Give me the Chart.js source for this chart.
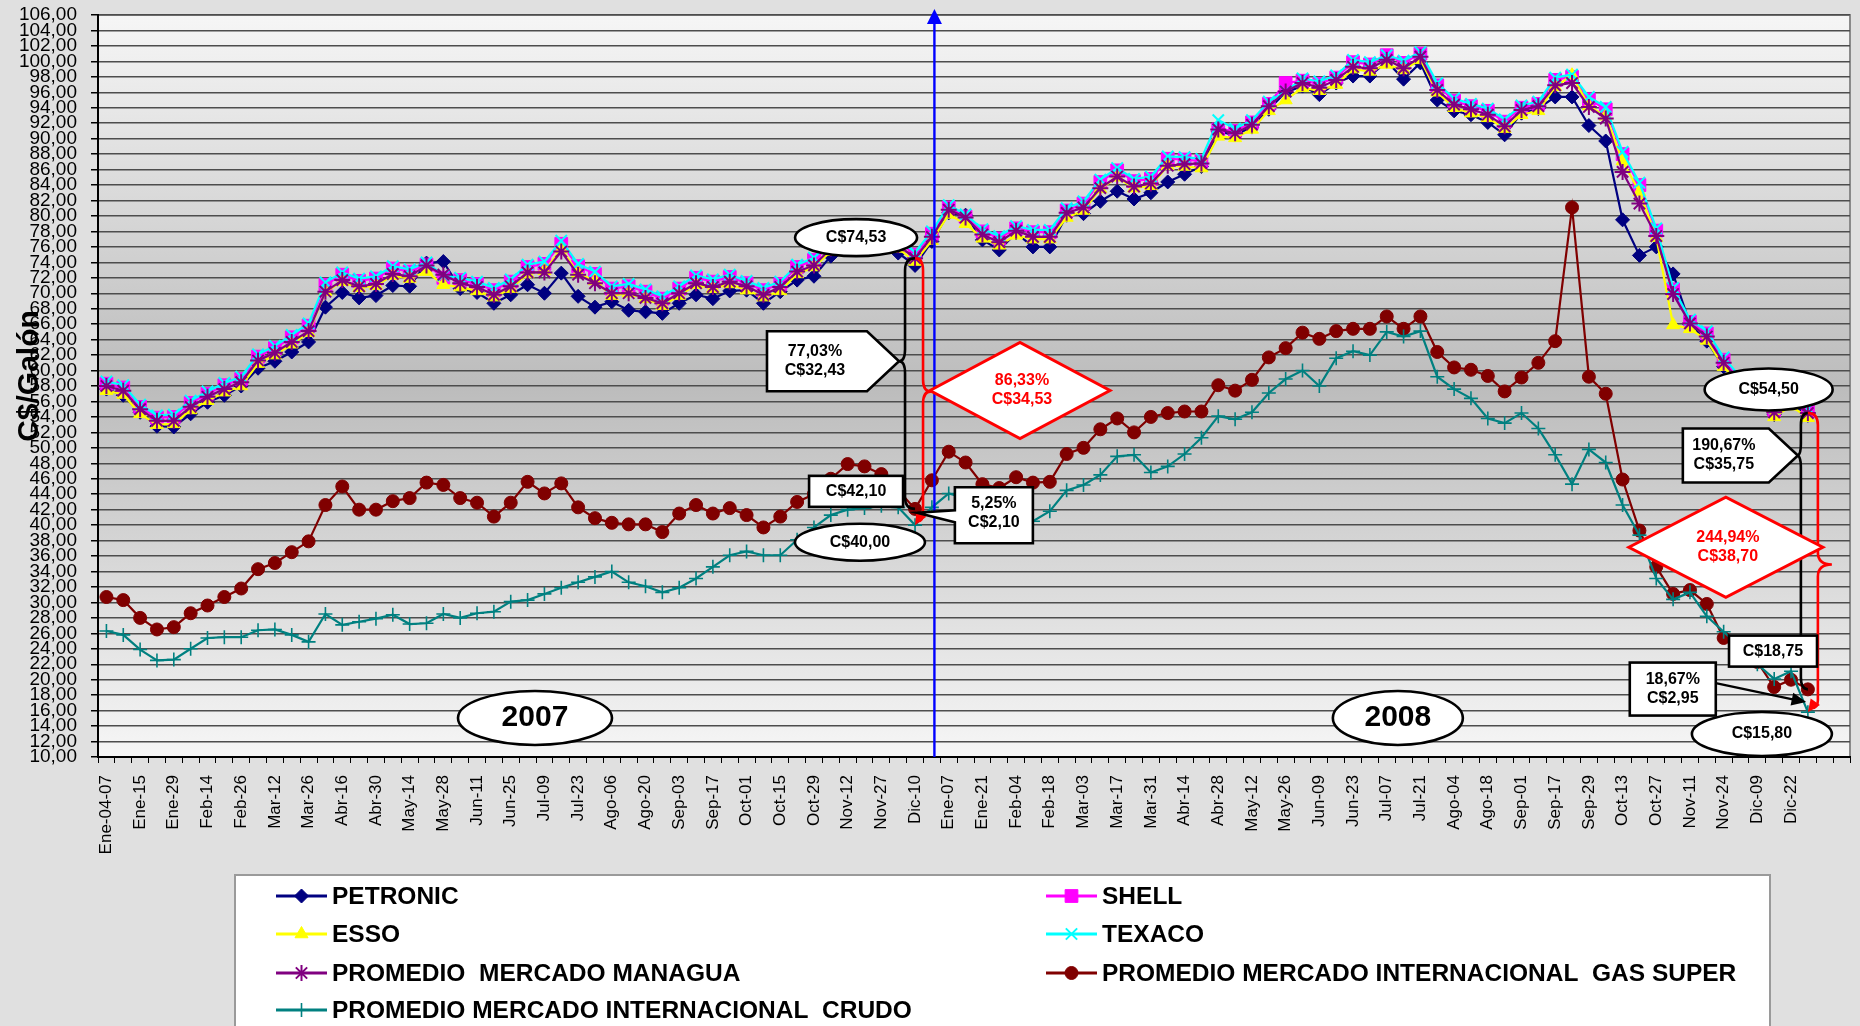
<!DOCTYPE html>
<html><head><meta charset="utf-8">
<script src="https://cdn.jsdelivr.net/npm/chart.js@4/dist/chart.umd.min.js"></script>
<style>html,body{margin:0;padding:0;background:#e0e0e0;}#wrap{width:1860px;height:1026px;position:relative;}</style>
</head><body><div id="wrap"><canvas id="c" width="1860" height="1026"></canvas></div>
<script>
const tickLabels = ["Ene-04-07","Ene-15","Ene-29","Feb-14","Feb-26","Mar-12","Mar-26","Abr-16","Abr-30","May-14","May-28","Jun-11","Jun-25","Jul-09","Jul-23","Ago-06","Ago-20","Sep-03","Sep-17","Oct-01","Oct-15","Oct-29","Nov-12","Nov-27","Dic-10",
"Ene-07","Ene-21","Feb-04","Feb-18","Mar-03","Mar-17","Mar-31","Abr-14","Abr-28","May-12","May-26","Jun-09","Jun-23","Jul-07","Jul-21","Ago-04","Ago-18","Sep-01","Sep-17","Sep-29","Oct-13","Oct-27","Nov-11","Nov-24","Dic-09","Dic-22"];
const weekCount = 104;

const petronic = [57.6,56.8,54.6,52.8,52.7,54.4,55.9,56.8,58.0,60.3,
 61.2,62.4,63.7,68.2,70.1,69.4,69.7,71.0,70.9,73.9,
 74.1,70.6,70.1,68.7,69.8,71.1,70.0,72.6,69.6,68.2,
 68.9,67.8,67.6,67.4,68.7,69.8,69.3,70.3,70.4,68.7,
 70.2,71.7,72.2,74.8,75.8,76.2,76.0,75.2,73.6,76.7,
 80.4,80.1,76.9,75.6,77.8,76.0,76.0,80.1,80.3,81.9,
 83.2,82.2,83.0,84.4,85.4,86.4,90.9,90.5,91.5,93.8,
 96.0,96.8,95.7,97.2,98.1,98.1,100.0,97.7,99.8,95.0,
 93.6,93.1,92.1,90.5,93.3,93.9,95.4,95.4,91.7,89.7,
 79.5,74.9,76.0,72.5,66.0,63.8,60.5,58.2,56.2,54.3,
 55.8,54.2];
const shell = [58.3,57.8,55.3,53.9,54.0,55.8,57.0,58.1,58.9,61.8,
 62.9,64.3,65.8,71.1,72.4,71.6,71.9,73.2,72.8,73.7,
 72.0,71.7,71.2,70.4,71.5,73.4,73.8,76.4,73.5,72.5,
 70.6,70.9,70.2,69.3,70.6,72.0,71.5,72.1,71.3,70.4,
 71.2,73.4,74.3,76.3,77.3,77.7,77.5,76.7,75.0,77.7,
 81.1,79.9,78.0,77.1,78.4,77.9,77.9,80.7,81.6,84.4,
 85.9,84.5,84.8,87.4,87.3,87.1,91.2,91.0,92.1,94.5,
 97.2,97.5,97.1,97.9,99.9,99.6,100.8,99.8,101.0,96.9,
 94.9,94.2,93.6,92.2,94.0,94.5,97.6,98.0,95.1,93.8,
 88.0,84.0,78.1,70.5,66.3,64.8,61.4,58.8,56.8,54.9,
 56.3,54.8];
const esso = [57.4,56.9,54.4,53.0,53.1,54.9,56.1,57.2,58.0,60.9,
 62.0,63.4,64.9,70.2,71.5,70.7,71.0,72.3,71.9,72.8,
 71.1,70.8,70.3,69.5,70.6,72.5,72.9,75.7,72.6,71.6,
 69.7,70.0,69.3,68.4,69.7,71.1,70.6,71.2,70.4,69.5,
 70.3,72.5,73.4,75.4,76.4,76.8,76.6,75.8,74.1,76.8,
 80.2,79.0,77.1,76.2,77.5,77.0,77.0,79.8,80.7,83.5,
 85.0,83.6,83.9,86.5,86.4,86.2,90.3,90.1,91.2,93.6,
 95.0,96.6,96.2,97.0,99.0,98.7,99.6,98.9,100.2,96.0,
 94.0,93.3,92.7,91.3,93.1,93.6,96.7,98.2,94.2,92.9,
 87.1,83.1,77.2,65.9,65.4,63.9,60.5,57.9,55.9,54.0,
 55.4,53.9];
const texaco = [58.6,58.1,55.6,54.2,54.3,56.1,57.3,58.4,59.2,62.1,
 63.2,64.6,66.1,71.4,72.7,71.9,72.2,73.5,73.1,74.0,
 72.3,72.0,71.5,70.7,71.8,73.7,74.1,76.8,73.8,72.8,
 70.9,71.2,70.5,69.6,70.9,72.3,71.8,72.4,71.6,70.7,
 71.5,73.7,74.6,76.6,77.6,78.0,77.8,77.0,75.3,78.0,
 81.4,80.2,78.3,77.4,78.7,78.2,78.2,81.0,81.9,84.7,
 86.2,84.8,85.1,87.7,87.6,87.4,92.4,91.3,92.4,94.8,
 96.1,97.8,97.4,98.2,100.2,99.9,100.8,100.1,101.2,97.2,
 95.2,94.5,93.9,92.5,94.3,94.8,97.9,98.3,95.4,94.1,
 88.3,84.3,78.4,70.7,66.6,65.1,61.7,59.1,57.1,55.2,
 56.6,55.1];
const promedioManagua = [58.0,57.4,55.0,53.5,53.5,55.3,56.6,57.6,58.5,61.3,
 62.3,63.7,65.1,70.2,71.7,70.9,71.2,72.5,72.2,73.6,
 72.4,71.3,70.8,69.8,70.9,72.7,72.7,75.4,72.4,71.3,
 70.0,70.0,69.4,68.7,70.0,71.3,70.8,71.5,70.9,69.8,
 70.8,72.8,73.6,75.8,76.8,77.2,77.0,76.2,74.53,77.3,
 80.8,79.8,77.6,76.6,78.1,77.3,77.3,80.4,81.1,83.6,
 85.1,83.8,84.2,86.5,86.7,86.8,91.2,90.7,91.8,94.2,
 96.1,97.2,96.6,97.6,99.3,99.1,100.2,99.1,100.6,96.3,
 94.4,93.8,93.1,91.6,93.7,94.2,96.9,97.2,94.1,92.6,
 85.7,81.6,77.4,69.9,66.1,64.4,61.0,58.5,56.5,54.6,
 56.0,54.5];
const gasSuper = [30.7,30.3,28.0,26.5,26.8,28.6,29.6,30.7,31.8,34.3,
 35.1,36.5,37.9,42.6,45.0,42.0,42.0,43.1,43.5,45.5,
 45.2,43.5,42.9,41.1,42.9,45.6,44.1,45.4,42.3,40.9,
 40.3,40.1,40.1,39.1,41.5,42.6,41.5,42.2,41.3,39.7,
 41.1,43.0,44.0,46.0,47.9,47.6,46.6,44.5,42.1,45.8,
 49.5,48.1,45.3,44.8,46.2,45.5,45.6,49.2,50.0,52.4,
 53.8,52.0,54.0,54.5,54.7,54.7,58.1,57.4,58.8,61.7,
 62.9,64.9,64.1,65.1,65.4,65.4,67.0,65.4,67.0,62.4,
 60.4,60.1,59.3,57.3,59.1,61.0,63.8,81.1,59.2,57.0,
 45.9,39.3,34.6,31.1,31.6,29.8,25.4,23.8,22.3,19.05,
 20.0,18.75];
const crudo = [26.3,25.8,23.9,22.5,22.6,24.0,25.4,25.5,25.5,26.4,
 26.5,25.8,24.9,28.5,27.1,27.5,27.9,28.4,27.2,27.3,
 28.5,28.0,28.6,28.8,30.1,30.3,31.1,31.9,32.6,33.3,
 34.0,32.6,32.1,31.3,31.9,33.1,34.6,36.1,36.6,36.1,
 36.1,38.1,39.7,41.3,42.0,42.2,42.5,42.3,40.0,42.3,
 44.1,43.5,42.0,41.0,40.5,40.5,41.8,44.5,45.2,46.5,
 48.9,49.1,46.8,47.6,49.2,51.3,54.1,53.7,54.6,57.1,
 58.9,60.0,58.0,61.6,62.5,62.0,65.0,64.4,65.1,59.2,
 57.6,56.4,53.8,53.2,54.5,52.5,49.1,45.3,49.8,48.1,
 42.6,38.7,33.1,30.4,31.3,28.2,26.2,24.2,22.0,20.1,
 21.1,15.8];
const seriesNames = ["PETRONIC","SHELL","ESSO","TEXACO","PROMEDIO  MERCADO MANAGUA","PROMEDIO MERCADO INTERNACIONAL  GAS SUPER","PROMEDIO MERCADO INTERNACIONAL  CRUDO"];

const categories = [];
for (let i = 0; i < weekCount; i++) categories.push(i % 2 === 0 && tickLabels[i / 2] ? tickLabels[i / 2] : "");

const FONT = '"Liberation Sans", Arial, sans-serif';
Chart.defaults.font.family = FONT;

function mk(label, data, color, style, radius, pbw, order) {
  return { label, data, borderColor: color, backgroundColor: color, pointBackgroundColor: color,
    pointBorderColor: color, pointStyle: style, pointRadius: radius, pointBorderWidth: pbw,
    borderWidth: 2.2, tension: 0, order, clip: false };
}
const datasets = [
  mk(seriesNames[0], petronic, '#000080', 'rectRot', 7, 1, 7),
  mk(seriesNames[1], shell, '#ff00ff', 'rect', 9, 1, 6),
  mk(seriesNames[2], esso, '#ffff00', 'triangle', 7.5, 1, 5),
  mk(seriesNames[3], texaco, '#00ffff', 'crossRot', 8, 2, 4),
  mk(seriesNames[4], promedioManagua, '#800080', 'star', 8, 2, 3),
  mk(seriesNames[5], gasSuper, '#800000', 'circle', 6.5, 1, 2),
  mk(seriesNames[6], crudo, '#008080', 'cross', 7, 1.6, 1)
];

const bgPlugin = {
  id: 'bg',
  beforeDraw(chart) {
    const { ctx, chartArea: a } = chart;
    ctx.save();
    ctx.fillStyle = '#e0e0e0';
    ctx.fillRect(0, 0, chart.width, chart.height);
    const g = ctx.createLinearGradient(0, a.top, 0, a.bottom);
    g.addColorStop(0, '#f6f6f6'); g.addColorStop(0.5, '#bcbcbc'); g.addColorStop(1, '#f6f6f6');
    ctx.fillStyle = g;
    ctx.fillRect(a.left, a.top, a.right - a.left, a.bottom - a.top);
    ctx.strokeStyle = '#8a8a8a'; ctx.lineWidth = 2;
    ctx.beginPath(); ctx.moveTo(a.left, a.top); ctx.lineTo(a.right, a.top); ctx.lineTo(a.right, a.bottom); ctx.stroke();
    ctx.restore();
  }
};

function textLines(ctx, cx, cy, lines, font, color, lh) {
  ctx.font = font; ctx.fillStyle = color; ctx.textAlign = 'center'; ctx.textBaseline = 'middle';
  const n = lines.length;
  lines.forEach((t, k) => ctx.fillText(t, cx, cy + (k - (n - 1) / 2) * lh));
}
function ellipse(ctx, cx, cy, rx, ry, lines, font) {
  ctx.beginPath(); ctx.ellipse(cx, cy, rx, ry, 0, 0, Math.PI * 2);
  ctx.fillStyle = '#fff'; ctx.fill(); ctx.lineWidth = 2.6; ctx.strokeStyle = '#000'; ctx.stroke();
  textLines(ctx, cx, cy, lines, font, '#000', 19);
}
function rectBox(ctx, cx, cy, w, h, lines, font) {
  ctx.fillStyle = '#fff'; ctx.fillRect(cx - w / 2, cy - h / 2, w, h);
  ctx.lineWidth = 2.6; ctx.strokeStyle = '#000'; ctx.strokeRect(cx - w / 2, cy - h / 2, w, h);
  textLines(ctx, cx, cy, lines, font, '#000', 19);
}
function pentagon(ctx, cx, cy, w, h, tipX, lines, font) {
  const L = cx - w / 2, R = cx + w / 2, T = cy - h / 2, B = cy + h / 2;
  ctx.beginPath(); ctx.moveTo(L, T); ctx.lineTo(R, T); ctx.lineTo(tipX, cy); ctx.lineTo(R, B); ctx.lineTo(L, B); ctx.closePath();
  ctx.fillStyle = '#fff'; ctx.fill(); ctx.lineWidth = 2.6; ctx.strokeStyle = '#000'; ctx.stroke();
  textLines(ctx, cx - 2, cy, lines, font, '#000', 19);
}
function diamond(ctx, cx, cy, hw, hh, lines, font) {
  ctx.beginPath(); ctx.moveTo(cx - hw, cy); ctx.lineTo(cx, cy - hh); ctx.lineTo(cx + hw, cy); ctx.lineTo(cx, cy + hh); ctx.closePath();
  ctx.fillStyle = '#fff'; ctx.fill(); ctx.lineWidth = 3; ctx.strokeStyle = '#ff0000'; ctx.stroke();
  textLines(ctx, cx + 2, cy, lines, font, '#ff0000', 19);
}
function arrowHead(ctx, tx, ty, fx, fy, size, color) {
  const ang = Math.atan2(ty - fy, tx - fx);
  ctx.beginPath(); ctx.moveTo(tx, ty);
  ctx.lineTo(tx - size * Math.cos(ang - 0.42), ty - size * Math.sin(ang - 0.42));
  ctx.lineTo(tx - size * Math.cos(ang + 0.42), ty - size * Math.sin(ang + 0.42));
  ctx.closePath(); ctx.fillStyle = color; ctx.fill();
}
function brace(ctx, px, yTop, yBot, off, cuspY, cuspOff, color, arrowBottom) {
  const lx = px + off, r = 12;
  ctx.beginPath();
  ctx.moveTo(px, yTop);
  ctx.quadraticCurveTo(lx, yTop, lx, yTop + r);
  ctx.lineTo(lx, cuspY - r);
  ctx.quadraticCurveTo(lx, cuspY, lx + cuspOff, cuspY);
  ctx.quadraticCurveTo(lx, cuspY, lx, cuspY + r);
  ctx.lineTo(lx, yBot - r);
  if (arrowBottom) ctx.quadraticCurveTo(lx, yBot - 4, px + off * 0.35, yBot - 4);
  else ctx.quadraticCurveTo(lx, yBot, px, yBot);
  ctx.strokeStyle = color; ctx.lineWidth = 2.6; ctx.stroke();
  if (arrowBottom) arrowHead(ctx, px, yBot, lx, yBot - 14, 14, color);
}

const annPlugin = {
  id: 'ann',
  afterDraw(chart) {
    const { ctx, scales: { x, y }, chartArea: a } = chart;
    const X = i => x.getPixelForValue(i);
    const Y = v => y.getPixelForValue(v);
    const bold = 'bold 16px ' + FONT;
    ctx.save();
    // blue vertical line with arrow
    const bx = X(49.15);
    ctx.strokeStyle = '#0000ff'; ctx.lineWidth = 2.4;
    ctx.beginPath(); ctx.moveTo(bx, a.bottom); ctx.lineTo(bx, a.top + 6); ctx.stroke();
    ctx.beginPath(); ctx.moveTo(bx, a.top - 6); ctx.lineTo(bx - 7.5, a.top + 9); ctx.lineTo(bx + 7.5, a.top + 9); ctx.closePath();
    ctx.fillStyle = '#0000ff'; ctx.fill();

    // ---- 2007 end annotations (week index 48)
    const p48 = X(48);
    brace(ctx, p48, Y(promedioManagua[48]), Y(gasSuper[48]), -10, Y(61.2), -6, '#000', false);
    brace(ctx, p48, Y(promedioManagua[48]), Y(crudo[48]), 8, Y(57.3), 8, '#ff0000', true);
    ellipse(ctx, X(44.5), Y(77.2), 61, 18.5, ['C$74,53'], bold);
    pentagon(ctx, X(42.18), Y(61.2), 100, 60, p48 - 16, ['77,03%', 'C$32,43'], bold);
    diamond(ctx, X(54.23), Y(57.42), 90, 48, ['86,33%', 'C$34,53'], bold);
    rectBox(ctx, X(44.5), Y(44.37), 94, 31, ['C$42,10'], bold);
    ellipse(ctx, X(44.73), Y(37.78), 65, 18.5, ['C$40,00'], bold);
    // callout 5,25%
    {
      const cx = X(52.68), cy = Y(41.27), w = 78, h = 56;
      const L = cx - w / 2, R = cx + w / 2, T = cy - h / 2, B = cy + h / 2;
      const tx = p48 + 2, ty = Y(41.6);
      ctx.beginPath(); ctx.moveTo(L, T); ctx.lineTo(R, T); ctx.lineTo(R, B); ctx.lineTo(L, B);
      ctx.lineTo(L, T + 35); ctx.lineTo(tx, ty); ctx.lineTo(L, T + 23); ctx.closePath();
      ctx.fillStyle = '#fff'; ctx.fill(); ctx.lineWidth = 2.6; ctx.strokeStyle = '#000'; ctx.stroke();
      textLines(ctx, cx, cy - 2, ['5,25%', 'C$2,10'], bold, '#000', 19);
    }
    // year ellipses
    ellipse(ctx, X(25.44), Y(15.05), 77, 27, ['2007'], 'bold 30px ' + FONT);
    ellipse(ctx, X(76.66), Y(15.05), 65, 27, ['2008'], 'bold 30px ' + FONT);

    // ---- 2008 end annotations (week index 101)
    const p101 = X(101);
    brace(ctx, p101, Y(promedioManagua[101]), Y(gasSuper[101]), -7, Y(49.0), -4, '#000', false);
    brace(ctx, p101, Y(promedioManagua[101]), Y(crudo[101]), 10, Y(34.9), 14, '#ff0000', true);
    ellipse(ctx, X(98.67), Y(57.55), 64, 21, ['C$54,50'], bold);
    pentagon(ctx, X(96.13), Y(49.0), 86, 54, p101 - 10, ['190,67%', 'C$35,75'], bold);
    diamond(ctx, X(96.13), Y(37.14), 97, 50, ['244,94%', 'C$38,70'], bold);
    rectBox(ctx, X(98.93), Y(23.7), 88, 31, ['C$18,75'], bold);
    rectBox(ctx, X(92.98), Y(18.79), 86, 53, ['18,67%', 'C$2,95'], bold);
    {
      const fx = X(92.98) + 43, fy = Y(18.79) - 6, tx = X(100.9), ty = Y(17.1);
      ctx.strokeStyle = '#000'; ctx.lineWidth = 2.2;
      ctx.beginPath(); ctx.moveTo(fx, fy); ctx.lineTo(tx - 10, ty - 2); ctx.stroke();
      arrowHead(ctx, tx, ty, fx, fy, 16, '#000');
    }
    ellipse(ctx, X(98.27), Y(12.98), 70, 22, ['C$15,80'], bold);

    // y-axis title
    ctx.save();
    ctx.translate(30, (a.top + a.bottom) / 2 - 10);
    ctx.rotate(-Math.PI / 2);
    ctx.font = 'bold 30px ' + FONT; ctx.fillStyle = '#000'; ctx.textAlign = 'center'; ctx.textBaseline = 'middle';
    ctx.fillText('C$/Galón', 0, 0);
    ctx.restore();

    // legend
    ctx.fillStyle = '#fff'; ctx.fillRect(235, 875, 1535, 170);
    ctx.strokeStyle = '#9a9a9a'; ctx.lineWidth = 2; ctx.strokeRect(235, 875, 1535, 170);
    const cols = [276, 1046], rows = [896, 934, 973, 1010];
    const place = [[0, 0], [1, 0], [0, 1], [1, 1], [0, 2], [1, 2], [0, 3]];
    chart.data.datasets.forEach((d, k) => {
      const [c, r] = place[k];
      const sx = cols[c], sy = rows[r];
      ctx.strokeStyle = d.borderColor; ctx.lineWidth = 3;
      ctx.beginPath(); ctx.moveTo(sx, sy); ctx.lineTo(sx + 51, sy); ctx.stroke();
      ctx.fillStyle = d.pointBackgroundColor; ctx.strokeStyle = d.pointBorderColor;
      ctx.lineWidth = d.pointBorderWidth;
      Chart.helpers.drawPoint(ctx, { pointStyle: d.pointStyle, radius: d.pointRadius, rotation: 0, borderWidth: d.pointBorderWidth }, sx + 25.5, sy);
      ctx.font = 'bold 24.5px ' + FONT; ctx.fillStyle = '#000'; ctx.textAlign = 'left'; ctx.textBaseline = 'middle';
      ctx.fillText(d.label, sx + 56, sy + 1);
    });
    ctx.restore();
  }
};

new Chart(document.getElementById('c'), {
  type: 'line',
  data: { labels: categories, datasets },
  options: {
    responsive: false, animation: false, events: [],
    layout: { padding: { top: 15, right: 8, bottom: 159, left: 0 } },
    plugins: { legend: { display: false }, tooltip: { enabled: false }, title: { display: false } },
    scales: {
      x: {
        type: 'category', offset: true,
        grid: { display: true, drawOnChartArea: false, drawTicks: true, tickLength: 6, color: '#000', offset: true, lineWidth: 1 },
        border: { display: true, color: '#000', width: 2 },
        ticks: { autoSkip: false, maxRotation: 90, minRotation: 90, padding: 12, color: '#000', font: { size: 17 } },
        afterFit(s) { s.height = 110; s.paddingLeft = 0; s.paddingRight = 0; }
      },
      y: {
        min: 10, max: 106,
        grid: { color: '#4d4d4d', lineWidth: 1.5, drawTicks: true, tickLength: 7, tickColor: '#000' },
        border: { display: true, color: '#000', width: 2 },
        ticks: { stepSize: 2, autoSkip: false, maxTicksLimit: 100, padding: 14, color: '#000', font: { size: 19 },
          callback: v => Number(v).toFixed(2).replace('.', ',') },
        afterFit(s) { s.width = 98; s.paddingTop = 0; s.paddingBottom = 0; }
      }
    }
  },
  plugins: [bgPlugin, annPlugin]
});
</script></body></html>
